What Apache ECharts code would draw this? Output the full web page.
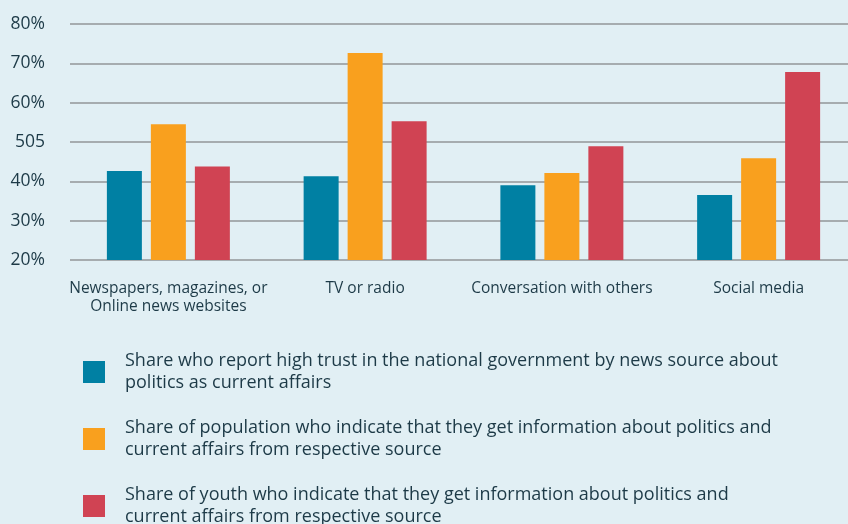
<!DOCTYPE html>
<html>
<head>
<meta charset="utf-8">
<style>
  html, body { margin: 0; padding: 0; background: #e1eff4; overflow: hidden; width: 848px; height: 524px; }
  #chart { width: 858px; height: 524px; }
</style>
<script src="https://cdn.jsdelivr.net/npm/echarts@6/dist/echarts.min.js"></script>
</head>
<body>
<div id="chart"></div>
<script>
// News sources (x axis)
const categories = [
  'Newspapers, magazines, or\nOnline news websites',
  'TV or radio',
  'Conversation with others',
  'Social media'
];

// Series names, as shown in the legend
const seriesNames = [
  'Share who report high trust in the national government by news source about\npolitics as current affairs',
  'Share of population who indicate that they get information about politics and\ncurrent affairs from respective source',
  'Share of youth who indicate that they get information about politics and\ncurrent affairs from respective source'
];

// Values in percent
const trustValues = [42.6, 41.3, 39.0, 36.5];
const populationValues = [54.5, 72.6, 42.1, 45.9];
const youthValues = [43.8, 55.3, 48.9, 67.8];

// Y axis tick labels, from 20 to 80
const yTickLabels = ['20%', '30%', '40%', '505', '60%', '70%', '80%'];

const colors = ['#0080a3', '#f9a01e', '#d04353'];
const textColor = '#1d3a47';
const fontFamily = '"Open Sans", Lato, sans-serif';

const chart = echarts.init(document.getElementById('chart'));

const makeSeries = (name, data, color) => ({
  name: name,
  type: 'bar',
  data: data,
  barWidth: 35,
  barGap: '25.7%',
  itemStyle: { color: color },
  emphasis: { disabled: true }
});

chart.setOption({
  backgroundColor: '#e1eff4',
  animation: false,
  textStyle: { fontFamily: fontFamily },
  grid: { left: 70, top: 24, width: 787, height: 236, containLabel: false },
  xAxis: {
    type: 'category',
    data: categories,
    axisLine: { show: false },
    axisTick: { show: false },
    axisLabel: {
      color: textColor,
      fontSize: 15.5,
      lineHeight: 18,
      margin: 20,
      interval: 0,
      fontFamily: fontFamily
    }
  },
  yAxis: {
    type: 'value',
    min: 20,
    max: 80,
    interval: 10,
    axisLine: { show: false },
    axisTick: { show: false },
    splitLine: { lineStyle: { color: '#929698', width: 1.5 } },
    axisLabel: {
      color: textColor,
      fontSize: 17.5,
      margin: 25,
      fontFamily: fontFamily,
      formatter: (v) => yTickLabels[Math.round((v - 20) / 10)]
    }
  },
  legend: {
    orient: 'vertical',
    left: 83,
    top: 350,
    height: 200,
    padding: 0,
    itemWidth: 22,
    itemHeight: 22,
    itemGap: 23,
    icon: 'rect',
    selectedMode: false,
    textStyle: {
      color: textColor,
      fontSize: 18,
      lineHeight: 22,
      padding: [0, 0, 0, 15],
      fontFamily: fontFamily
    },
    data: seriesNames
  },
  series: [
    makeSeries(seriesNames[0], trustValues, colors[0]),
    makeSeries(seriesNames[1], populationValues, colors[1]),
    makeSeries(seriesNames[2], youthValues, colors[2])
  ]
});
</script>
</body>
</html>
